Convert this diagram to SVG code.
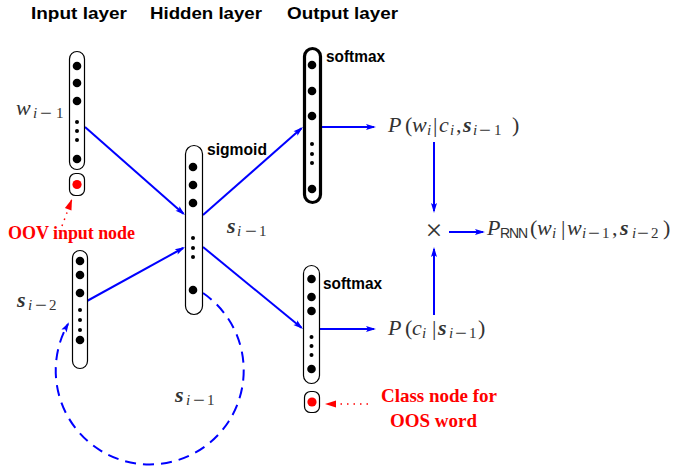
<svg xmlns="http://www.w3.org/2000/svg" width="676" height="468" viewBox="0 0 676 468">
<style>
.title{font-family:"Liberation Sans",Arial,sans-serif;font-weight:bold;font-size:17px;fill:#000}
.fn{font-family:"Liberation Sans Narrow","Liberation Sans",sans-serif;font-weight:bold;font-size:17px;fill:#000}
.node{fill:#fff;stroke:#000;stroke-width:1.2}
.thick{fill:#fff;stroke:#000;stroke-width:3.2}
.big{fill:#000}
.red{fill:#f00}
.mi{font-family:"Liberation Serif",serif;font-style:italic;font-size:22px;fill:#333}
.mr{font-family:"Liberation Serif",serif;font-size:22px;fill:#333}
.mb{font-family:"Liberation Serif",serif;font-style:italic;font-weight:bold;font-size:22px;fill:#333}
.si{font-family:"Liberation Serif",serif;font-style:italic;font-size:15px;fill:#333}
.sr{font-family:"Liberation Serif",serif;font-size:15px;fill:#333}
.mn{font-family:"Liberation Serif",serif;font-size:21px;fill:#333}
.rl{font-family:"Liberation Serif",serif;font-weight:bold;font-size:19px;fill:#f00}
.conn{fill:none;stroke:#00f;stroke-width:2}
.dash{fill:none;stroke:#00f;stroke-width:2;stroke-dasharray:11 7}
.rdot{fill:none;stroke:#f00;stroke-width:1.5;stroke-dasharray:1.5 5}
</style>
<defs>
<marker id="ah" markerUnits="userSpaceOnUse" markerWidth="14" markerHeight="10" viewBox="-10 -5 14 10" refX="0" refY="0" orient="auto">
<path d="M2,0 L-8,-3 L-6,0 L-8,3 Z" fill="#00f"/>
</marker>
<marker id="rah" markerUnits="userSpaceOnUse" markerWidth="14" markerHeight="10" viewBox="-12 -5 14 10" refX="0" refY="0" orient="auto">
<path d="M0,0 L-11,-3.5 L-11,3.5 Z" fill="#f00"/>
</marker>
</defs>

<g id="titles">
<text class="title" x="31" y="19" textLength="96" lengthAdjust="spacingAndGlyphs">Input layer</text>
<text class="title" x="150" y="19" textLength="112" lengthAdjust="spacingAndGlyphs">Hidden layer</text>
<text class="title" x="287" y="19" textLength="111" lengthAdjust="spacingAndGlyphs">Output layer</text>
</g>

<g id="connectors">
<line class="conn" x1="85" y1="127" x2="183.5" y2="213.7" marker-end="url(#ah)"/>
<line class="conn" x1="87" y1="301" x2="183.2" y2="248" marker-end="url(#ah)"/>
<line class="conn" x1="203" y1="215" x2="301.5" y2="128.3" marker-end="url(#ah)"/>
<line class="conn" x1="203" y1="247" x2="301.5" y2="327.7" marker-end="url(#ah)"/>
<line class="conn" x1="322" y1="127" x2="374" y2="127" marker-end="url(#ah)"/>
<line class="conn" x1="319" y1="329" x2="374" y2="329" marker-end="url(#ah)"/>
<line class="conn" x1="434" y1="142" x2="434" y2="211" marker-end="url(#ah)"/>
<line class="conn" x1="434" y1="315" x2="434" y2="249" marker-end="url(#ah)"/>
<line class="conn" x1="449" y1="232" x2="483" y2="232" marker-end="url(#ah)"/>
<path class="dash" d="M203,293 A94,94 0 1 1 68,324" marker-end="url(#ah)"/>
<line class="rdot" x1="62" y1="226" x2="72" y2="199" marker-end="url(#rah)"/>
<line class="rdot" x1="368" y1="404" x2="335" y2="404"/>
<path d="M325,404 L336,400.5 L336,407.5 Z" fill="#f00"/>
</g>

<g id="input-w">
<rect class="node" x="69.5" y="51.5" width="15" height="118" rx="7.5"/>
<circle class="big" cx="77" cy="66" r="4.3"/>
<circle class="big" cx="77" cy="83" r="4.3"/>
<circle class="big" cx="77" cy="101" r="4.3"/>
<circle class="big" cx="77" cy="122" r="2"/>
<circle class="big" cx="77" cy="131" r="2"/>
<circle class="big" cx="77" cy="140" r="2"/>
<circle class="big" cx="77" cy="159" r="4.3"/>
<text class="mi" x="16" y="115">w</text>
<text y="118"><tspan class="si" x="33">i</tspan><tspan class="mn" x="40" y="120">−</tspan><tspan class="sr" x="56" y="118">1</tspan></text>
</g>

<g id="oov-node">
<rect class="node" x="69.5" y="173.5" width="15" height="22" rx="6"/>
<circle class="red" cx="77" cy="184.5" r="4.6"/>
<text class="rl" x="8" y="239" style="font-size:18px" textLength="127">OOV input node</text>
</g>

<g id="input-s">
<rect class="node" x="72.5" y="250.5" width="15" height="118" rx="7.5"/>
<circle class="big" cx="80" cy="261" r="4.3"/>
<circle class="big" cx="80" cy="275" r="4.3"/>
<circle class="big" cx="80" cy="293" r="4.3"/>
<circle class="big" cx="80" cy="310" r="2"/>
<circle class="big" cx="80" cy="320" r="2"/>
<circle class="big" cx="80" cy="330" r="2"/>
<circle class="big" cx="80" cy="340" r="4.3"/>
<text class="mb" x="17" y="307">s</text>
<text y="310"><tspan class="si" x="28">i</tspan><tspan class="mn" x="35" y="312">−</tspan><tspan class="sr" x="49" y="310">2</tspan></text>
</g>

<g id="hidden">
<rect class="node" x="185.5" y="145.5" width="17" height="169" rx="8.5"/>
<circle class="big" cx="193" cy="167" r="4.3"/>
<circle class="big" cx="193" cy="185" r="4.3"/>
<circle class="big" cx="193" cy="203" r="4.3"/>
<circle class="big" cx="193" cy="238" r="2"/>
<circle class="big" cx="193" cy="248" r="2"/>
<circle class="big" cx="193" cy="257" r="2"/>
<circle class="big" cx="193" cy="290" r="4.3"/>
<text class="fn" x="207" y="155" textLength="60" lengthAdjust="spacingAndGlyphs">sigmoid</text>
<text class="mb" x="227" y="233">s</text>
<text y="236"><tspan class="si" x="237">i</tspan><tspan class="mn" x="245" y="238">−</tspan><tspan class="sr" x="259" y="236">1</tspan></text>
<text class="mb" x="175" y="402">s</text>
<text y="405"><tspan class="si" x="186">i</tspan><tspan class="mn" x="193" y="407">−</tspan><tspan class="sr" x="207" y="405">1</tspan></text>
</g>

<g id="output-word">
<rect class="thick" x="304.5" y="48.5" width="16" height="154" rx="8"/>
<circle class="big" cx="312" cy="65" r="4.3"/>
<circle class="big" cx="312" cy="91" r="4.3"/>
<circle class="big" cx="312" cy="116" r="4.3"/>
<circle class="big" cx="312" cy="144" r="2"/>
<circle class="big" cx="312" cy="154" r="2"/>
<circle class="big" cx="312" cy="163" r="2"/>
<circle class="big" cx="312" cy="189" r="4.3"/>
<text class="fn" x="326" y="62" textLength="59" lengthAdjust="spacingAndGlyphs">softmax</text>
</g>

<g id="output-class">
<rect class="node" x="303.5" y="265.5" width="16" height="118" rx="8"/>
<circle class="big" cx="311.5" cy="279" r="4.3"/>
<circle class="big" cx="311.5" cy="297" r="4.3"/>
<circle class="big" cx="311.5" cy="311" r="4.3"/>
<circle class="big" cx="311.5" cy="337" r="2"/>
<circle class="big" cx="311.5" cy="346" r="2"/>
<circle class="big" cx="311.5" cy="355" r="2"/>
<circle class="big" cx="311.5" cy="369" r="4.3"/>
<text class="fn" x="323" y="289" textLength="59" lengthAdjust="spacingAndGlyphs">softmax</text>
</g>

<g id="oos-node">
<rect class="node" x="304.5" y="391.5" width="15" height="21" rx="6"/>
<circle class="red" cx="312" cy="402" r="4.6"/>
<text class="rl" x="381" y="402" textLength="116">Class node for</text>
<text class="rl" x="390" y="427" textLength="87">OOS word</text>
</g>

<g id="p-word">
<text class="mi" x="388" y="132">P</text>
<text class="mr" x="405" y="132">(</text>
<text class="mi" x="412" y="132">w</text>
<text class="si" x="427" y="135">i</text>
<text class="mr" x="433" y="132">|</text>
<text class="mi" x="439" y="132">c</text>
<text class="si" x="450" y="135">i</text>
<text class="mr" x="456" y="132">,</text>
<text class="mb" x="463" y="132">s</text>
<text y="135"><tspan class="si" x="473">i</tspan><tspan class="mn" x="479" y="137">−</tspan><tspan class="sr" x="494" y="135">1</tspan></text>
<text class="mr" x="512" y="132">)</text>
</g>

<g id="p-class">
<text class="mi" x="388" y="335">P</text>
<text class="mr" x="405" y="335">(</text>
<text class="mi" x="412" y="335">c</text>
<text class="si" x="422" y="338">i</text>
<text class="mr" x="432" y="335">|</text>
<text class="mb" x="438" y="335">s</text>
<text y="338"><tspan class="si" x="449">i</tspan><tspan class="mn" x="455" y="340">−</tspan><tspan class="sr" x="469" y="338">1</tspan></text>
<text class="mr" x="478" y="335">)</text>
</g>

<g id="times">
<text class="mr" x="434" y="240" style="font-size:30px" text-anchor="middle">×</text>
</g>

<g id="p-rnn">
<text class="mi" x="487" y="235">P</text>
<text x="500" y="238" font-family="Liberation Sans, sans-serif" font-size="14" fill="#333" textLength="28">RNN</text>
<text class="mr" x="530" y="235">(</text>
<text class="mi" x="537" y="235">w</text>
<text class="si" x="552" y="238">i</text>
<text class="mr" x="561" y="235">|</text>
<text class="mi" x="567" y="235">w</text>
<text y="238"><tspan class="si" x="582">i</tspan><tspan class="mn" x="588" y="240">−</tspan><tspan class="sr" x="602" y="238">1</tspan></text>
<text class="mr" x="612" y="235">,</text>
<text class="mb" x="620" y="235">s</text>
<text y="238"><tspan class="si" x="632">i</tspan><tspan class="mn" x="637" y="240">−</tspan><tspan class="sr" x="651" y="238">2</tspan></text>
<text class="mr" x="663" y="235">)</text>
</g>
</svg>
